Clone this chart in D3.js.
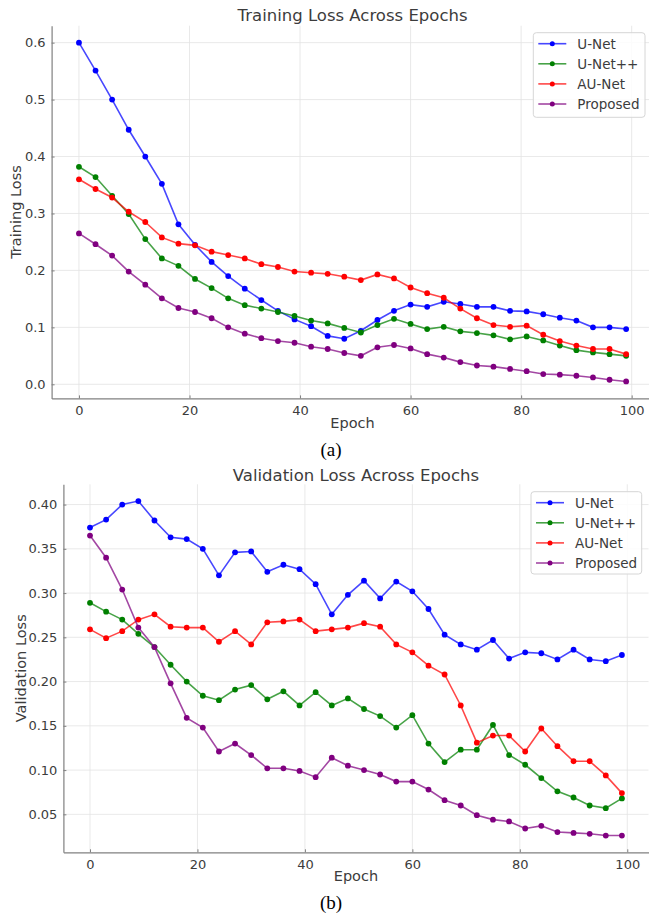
<!DOCTYPE html>
<html>
<head>
<meta charset="utf-8">
<script src="https://cdn.jsdelivr.net/npm/d3@7"></script>
<style>
  body { margin: 0; background: #fff; }
  svg { display: block; }
</style>
</head>
<body>
<div id="chart"></div>
<script>
// epochs sampled every 3
const epochs = [0,3,6,9,12,15,18,21,24,27,30,33,36,39,42,45,48,51,54,57,60,63,66,69,72,75,78,81,84,87,90,93,96,99]
const models = ["U-Net", "U-Net++", "AU-Net", "Proposed"]
const colors = ["#0000ff", "#008000", "#ff0000", "#800080"]

// training loss
const unetTrain = [0.600,0.551,0.500,0.447,0.400,0.352,0.281,0.245,0.215,0.190,0.168,0.148,0.129,0.114,0.102,0.085,0.080,0.094,0.113,0.129,0.140,0.136,0.145,0.141,0.136,0.136,0.129,0.128,0.123,0.117,0.112,0.100,0.100,0.097]
const unetppTrain = [0.382,0.364,0.331,0.299,0.255,0.221,0.208,0.185,0.169,0.151,0.139,0.133,0.127,0.120,0.112,0.107,0.099,0.091,0.104,0.115,0.106,0.097,0.101,0.093,0.090,0.086,0.079,0.084,0.077,0.068,0.060,0.056,0.053,0.050]
const auNetTrain = [0.360,0.343,0.328,0.303,0.285,0.258,0.247,0.244,0.233,0.227,0.221,0.211,0.206,0.198,0.196,0.194,0.189,0.183,0.193,0.186,0.170,0.160,0.152,0.133,0.116,0.104,0.101,0.103,0.087,0.076,0.068,0.062,0.062,0.053]
const proposedTrain = [0.265,0.246,0.226,0.198,0.175,0.151,0.134,0.127,0.116,0.100,0.089,0.081,0.076,0.073,0.066,0.062,0.055,0.050,0.065,0.069,0.063,0.053,0.047,0.039,0.033,0.031,0.027,0.023,0.018,0.017,0.015,0.012,0.008,0.005]

// validation loss
const unetVal = [0.374,0.383,0.400,0.404,0.382,0.363,0.361,0.350,0.320,0.346,0.347,0.324,0.332,0.327,0.310,0.276,0.298,0.314,0.294,0.313,0.302,0.282,0.253,0.242,0.236,0.247,0.226,0.233,0.232,0.225,0.236,0.225,0.223,0.230]
const unetppVal = [0.289,0.279,0.270,0.254,0.239,0.219,0.200,0.184,0.179,0.191,0.196,0.180,0.189,0.173,0.188,0.173,0.181,0.169,0.161,0.148,0.162,0.130,0.109,0.123,0.123,0.151,0.117,0.106,0.091,0.076,0.069,0.060,0.057,0.068]
const auNetVal = [0.259,0.249,0.257,0.270,0.276,0.262,0.261,0.261,0.245,0.257,0.242,0.267,0.268,0.270,0.257,0.259,0.261,0.266,0.262,0.242,0.233,0.218,0.208,0.173,0.131,0.139,0.139,0.121,0.147,0.127,0.110,0.110,0.094,0.074]
const proposedVal = [0.365,0.340,0.304,0.261,0.239,0.198,0.159,0.148,0.121,0.130,0.117,0.102,0.102,0.099,0.092,0.114,0.105,0.100,0.095,0.087,0.087,0.078,0.066,0.060,0.049,0.044,0.042,0.034,0.037,0.030,0.029,0.028,0.026,0.026]

const xTicks = [0, 20, 40, 60, 80, 100]
const trainTicks = [0.0, 0.1, 0.2, 0.3, 0.4, 0.5, 0.6]
const valTicks = [0.05, 0.10, 0.15, 0.20, 0.25, 0.30, 0.35, 0.40]

let width = 649
let height = 913
let font = "DejaVu Sans, Verdana, sans-serif"
let text_color = "#3c3c3c"

let svg = d3.select("#chart").append("svg")
  .attr("width", width)
  .attr("height", height)
  .attr("viewBox", [0, 0, width, height])

function padded(values){
  let lo = d3.min(values), hi = d3.max(values)
  let m = (hi - lo) * 0.05
  return [lo - m, hi + m]
}

function linePanel(params){
  let {series, box, yTicks, yFormat, title, yLabel, caption, titleY, xLabelY, yLabelX, captionY, legendBox} = params

  let x = d3.scaleLinear().domain(padded(epochs)).range([box.left, box.right])
  let y = d3.scaleLinear().domain(padded(series.flat())).range([box.bottom, box.top])

  let g = svg.append("g")

  // grid
  g.append("g").selectAll("line").data(xTicks).join("line")
    .attr("x1", d => x(d)).attr("x2", d => x(d))
    .attr("y1", box.top).attr("y2", box.bottom)
    .attr("stroke", "#e3e3e3").attr("stroke-width", 0.8)
  g.append("g").selectAll("line").data(yTicks).join("line")
    .attr("x1", box.left).attr("x2", box.right)
    .attr("y1", d => y(d)).attr("y2", d => y(d))
    .attr("stroke", "#e3e3e3").attr("stroke-width", 0.8)

  // axes, ticks pointing inward
  let xAxis = g.append("g")
    .attr("transform", `translate(0,${box.bottom})`)
    .call(d3.axisBottom(x).tickValues(xTicks).tickSizeInner(-3).tickSizeOuter(0).tickPadding(7).tickFormat(d3.format("d")))
  let yAxis = g.append("g")
    .attr("transform", `translate(${box.left},0)`)
    .call(d3.axisLeft(y).tickValues(yTicks).tickSizeInner(-3).tickSizeOuter(0).tickPadding(6).tickFormat(d3.format(yFormat)))

  for (let ax of [xAxis, yAxis]) {
    ax.select(".domain").attr("stroke", "#808080").attr("stroke-width", 1.2)
    ax.selectAll(".tick line").attr("stroke", "#808080")
    ax.selectAll(".tick text").attr("fill", text_color)
      .attr("font-family", font).attr("font-size", 13)
  }

  // lines and markers
  let line = d3.line().x((d, i) => x(epochs[i])).y(d => y(d))
  series.forEach((values, k) => {
    g.append("path")
      .attr("d", line(values))
      .attr("fill", "none")
      .attr("stroke", colors[k])
      .attr("stroke-opacity", 0.72)
      .attr("stroke-width", 1.6)
    g.append("g").selectAll("circle").data(values).join("circle")
      .attr("cx", (d, i) => x(epochs[i]))
      .attr("cy", d => y(d))
      .attr("r", 2.9)
      .attr("fill", colors[k])
  })

  // title and labels
  let cx = (box.left + box.right) / 2
  svg.append("text")
    .attr("x", cx).attr("y", titleY)
    .style("text-anchor", "middle").attr("fill", text_color)
    .attr("font-family", font).attr("font-size", 16.5)
    .text(title)
  svg.append("text")
    .attr("x", cx).attr("y", xLabelY)
    .style("text-anchor", "middle").attr("fill", text_color)
    .attr("font-family", font).attr("font-size", 14.5)
    .text("Epoch")
  svg.append("text")
    .attr("transform", `translate(${yLabelX},${(box.top + box.bottom) / 2}) rotate(-90)`)
    .style("text-anchor", "middle").attr("fill", text_color)
    .attr("font-family", font).attr("font-size", 14.5)
    .text(yLabel)
  svg.append("text")
    .attr("x", 331).attr("y", captionY)
    .style("text-anchor", "middle").attr("fill", "#000")
    .attr("font-family", "Liberation Serif, Times New Roman, serif").attr("font-size", 19)
    .text(caption)

  // legend
  let lb = legendBox
  let lg = svg.append("g")
  lg.append("rect")
    .attr("x", lb.x).attr("y", lb.y).attr("width", lb.w).attr("height", lb.h)
    .attr("rx", 3).attr("fill", "#fff").attr("fill-opacity", 0.85)
    .attr("stroke", "#d6d6d6")
  models.forEach((name, k) => {
    let ry = lb.y + 11 + k * 20.1
    lg.append("line")
      .attr("x1", lb.x + 5).attr("x2", lb.x + 33)
      .attr("y1", ry).attr("y2", ry)
      .attr("stroke", colors[k]).attr("stroke-opacity", 0.72).attr("stroke-width", 1.6)
    lg.append("circle")
      .attr("cx", lb.x + 19).attr("cy", ry).attr("r", 2.5)
      .attr("fill", colors[k])
    lg.append("text")
      .attr("x", lb.x + 44).attr("y", ry).attr("dy", "0.36em")
      .attr("fill", text_color)
      .attr("font-family", font).attr("font-size", 13.5)
      .text(name)
  })
}

linePanel({
  series: [unetTrain, unetppTrain, auNetTrain, proposedTrain],
  box: {left: 51.6, right: 653.5, top: 25.7, bottom: 398.4},
  yTicks: trainTicks, yFormat: ".1f",
  title: "Training Loss Across Epochs", yLabel: "Training Loss", caption: "(a)",
  titleY: 20.5, xLabelY: 427.5, yLabelX: 20.5, captionY: 456,
  legendBox: {x: 533.3, y: 32.7, w: 111.7, h: 84.6}
})

linePanel({
  series: [unetVal, unetppVal, auNetVal, proposedVal],
  box: {left: 63.4, right: 648.5, top: 484.3, bottom: 852.3},
  yTicks: valTicks, yFormat: ".2f",
  title: "Validation Loss Across Epochs", yLabel: "Validation Loss", caption: "(b)",
  titleY: 481, xLabelY: 880.5, yLabelX: 25.5, captionY: 909,
  legendBox: {x: 531, y: 491.7, w: 110.7, h: 82.3}
})
</script>
</body>
</html>
